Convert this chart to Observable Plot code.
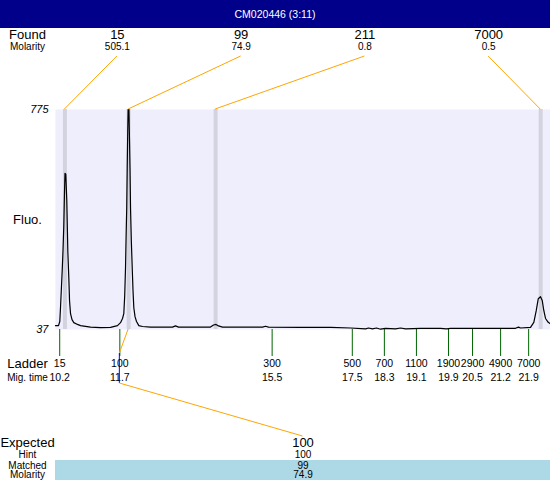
<!DOCTYPE html>
<html><head><meta charset="utf-8">
<script src="https://cdn.jsdelivr.net/npm/d3@7"></script>
<script src="https://cdn.jsdelivr.net/npm/@observablehq/plot@0.6"></script>
<style>
body{margin:0;background:#fff;font-family:"Liberation Sans",Arial,sans-serif;}
#title{width:550px;height:28px;line-height:28px;background:#00008b;color:#fff;text-align:center;font-size:10.5px;}
#chart svg{display:block}
</style></head><body>
<div id="title"></div>
<div id="chart"></div>
<script>
const title = "CM020446 (3:11)";
const xDomain = [10.095, 22.445];
const yDomain = [37, 775];
const traceTime = [10.095,10.170,10.202,10.220,10.245,10.262,10.282,10.302,10.320,10.332,
  10.352,10.377,10.402,10.427,10.445,10.470,10.507,10.552,10.644,10.719,
  10.969,11.218,11.468,11.642,11.717,11.767,11.799,11.822,11.842,11.857,
  11.872,11.884,11.897,11.907,11.927,11.942,11.954,11.967,11.987,12.009,
  12.029,12.049,12.079,12.116,12.174,12.266,12.466,12.840,13.014,13.089,
  13.164,13.713,13.962,14.037,14.100,14.162,14.262,14.836,15.260,15.335,
  15.410,16.208,16.957,17.456,17.830,17.905,18.004,18.104,18.204,18.329,
  18.578,18.703,18.828,19.202,19.701,19.851,19.951,20.699,21.572,21.647,
  21.697,21.947,22.029,22.089,22.139,22.196,22.239,22.279,22.321,22.388,22.445];
const traceFluo = [50,50,64,111,184,234,301,384,501,561,
  558,468,301,211,134,90,70,60,54,50,
  45,43,44,50,60,74,90,151,244,351,
  444,578,701,775,775,668,578,444,334,244,
  167,110,80,64,50,47,45,45,45,49,
  45,45,45,52,54,49,45,45,45,48,
  45,44,44,42,39,42,39,42,38,41,
  39,42,39,41,41,39,41,41,41,45,
  42,44,61,100,140,147,134,100,74,61,56];
const foundSizes = [15, 99, 211, 7000];
const foundMolarity = [505.1, 74.9, 0.8, 0.5];
const foundTimes = [10.33, 11.92, 14.09, 22.20];
const ladderSizes = [15, 100, 300, 500, 700, 1100, 1900, 2900, 4900, 7000];
const ladderTimes = [10.2, 11.7, 15.5, 17.5, 18.3, 19.1, 19.9, 20.5, 21.2, 21.9];
const expectedSizes = [100];
const hintSizes = [100];
const matchedSizes = [99];
const matchedMolarity = [74.9];
const yTicks = [37, 775];

document.getElementById("title").textContent = title;

const trace = traceTime.map((t, i) => ({t, f: traceFluo[i]}));
const found = foundSizes.map((s, i) => ({s, m: foundMolarity[i], t: foundTimes[i], i}));
const ladder = ladderSizes.map((s, i) => ({s, t: ladderTimes[i]}));
const colTime = (i, n) => xDomain[0] + (xDomain[1] - xDomain[0]) * (i + 0.5) / n;
const expected = expectedSizes.map((s, i) => ({s, h: hintSizes[i], m: matchedSizes[i], mol: matchedMolarity[i], x: colTime(i, expectedSizes.length)}));

function annotations(index, scales, values, dim) {
  const x = scales.x;
  const top = dim.marginTop, bottom = dim.height - dim.marginBottom;
  const left = dim.marginLeft, right = dim.width - dim.marginRight;
  const g = d3.create("svg:g").attr("fill", "none").attr("stroke-width", 1);
  g.append("rect").attr("x", left).attr("y", bottom + 131).attr("width", right - left)
    .attr("height", dim.height - bottom - 131).attr("fill", "#add8e6").attr("stroke", "none");
  foundTimes.forEach((t, i) => {
    g.append("line").attr("x1", x(colTime(i, foundTimes.length))).attr("y1", top - 53)
      .attr("x2", x(t)).attr("y2", top).attr("stroke", "orange");
  });
  expectedSizes.forEach((s, i) => {
    const px = x(foundTimes[foundSizes.indexOf(matchedSizes[i])]);
    const lx = x(ladderTimes[ladderSizes.indexOf(s)]);
    const ex = x(colTime(i, expectedSizes.length));
    g.append("line").attr("x1", px).attr("y1", bottom).attr("x2", lx).attr("y2", bottom + 24).attr("stroke", "orange");
    g.append("line").attr("x1", lx).attr("y1", bottom + 24).attr("x2", lx).attr("y2", bottom + 54).attr("stroke", "blue");
    g.append("line").attr("x1", lx).attr("y1", bottom + 54).attr("x2", ex).attr("y2", bottom + 107).attr("stroke", "orange");
  });
  return g.node();
}

const T = {textAnchor: "middle", lineAnchor: "middle"};

const chart = Plot.plot({
  width: 550,
  height: 452,
  marginTop: 81,
  marginBottom: 151,
  marginLeft: 55,
  marginRight: 0,
  style: {fontFamily: "'Liberation Sans', Arial, sans-serif", background: "#fff", color: "#000"},
  x: {domain: xDomain, axis: null},
  y: {domain: yDomain, axis: null},
  marks: [
    Plot.frame({fill: "#eeeefc", stroke: "none"}),
    Plot.ruleX(found, {x: "t", stroke: "#d3d3e0", strokeWidth: 4}),
    Plot.ruleX(ladder, {x: "t", stroke: "#006400", strokeWidth: 1, insetTop: 220, insetBottom: -27}),
    Plot.line(trace, {x: "t", y: "f", stroke: "#000", strokeWidth: 1.2}),
    annotations,
    Plot.text(yTicks, {y: d => d, frameAnchor: "left", dx: -7, textAnchor: "end", lineAnchor: "middle", text: d => String(d), fontSize: 11, fontStyle: "italic"}),
    Plot.text(["Fluo."], {...T, frameAnchor: "left", dx: -28, fontSize: 13}),
    Plot.text(["Found"], {...T, frameAnchor: "top-left", dx: -28, dy: -75, fontSize: 13}),
    Plot.text(["Molarity"], {...T, frameAnchor: "top-left", dx: -28, dy: -63, fontSize: 10}),
    Plot.text(found, {...T, x: d => colTime(d.i, found.length), frameAnchor: "top", dy: -75, text: d => String(d.s), fontSize: 13}),
    Plot.text(found, {...T, x: d => colTime(d.i, found.length), frameAnchor: "top", dy: -63, text: d => String(d.m), fontSize: 10}),
    Plot.text(["Ladder"], {...T, frameAnchor: "bottom-left", dx: -28, dy: 34, fontSize: 13}),
    Plot.text(["Mig. time"], {...T, frameAnchor: "bottom-left", dx: -28, dy: 48, fontSize: 10}),
    Plot.text(ladder, {...T, x: "t", frameAnchor: "bottom", dy: 34, text: d => String(d.s), fontSize: 10.5}),
    Plot.text(ladder, {...T, x: "t", frameAnchor: "bottom", dy: 48, text: d => d.t.toFixed(1), fontSize: 10.5}),
    Plot.text(["Expected"], {...T, frameAnchor: "bottom-left", dx: -28, dy: 113, fontSize: 13}),
    Plot.text(["Hint"], {...T, frameAnchor: "bottom-left", dx: -28, dy: 125, fontSize: 10}),
    Plot.text(["Matched"], {...T, frameAnchor: "bottom-left", dx: -28, dy: 136, fontSize: 10}),
    Plot.text(["Molarity"], {...T, frameAnchor: "bottom-left", dx: -28, dy: 145.5, fontSize: 10}),
    Plot.text(expected, {...T, x: "x", frameAnchor: "bottom", dy: 113, text: d => String(d.s), fontSize: 13}),
    Plot.text(expected, {...T, x: "x", frameAnchor: "bottom", dy: 125, text: d => String(d.h), fontSize: 10}),
    Plot.text(expected, {...T, x: "x", frameAnchor: "bottom", dy: 136, text: d => String(d.m), fontSize: 10}),
    Plot.text(expected, {...T, x: "x", frameAnchor: "bottom", dy: 145.5, text: d => String(d.mol), fontSize: 10})
  ]
});
document.getElementById("chart").appendChild(chart);
</script>
</body></html>
